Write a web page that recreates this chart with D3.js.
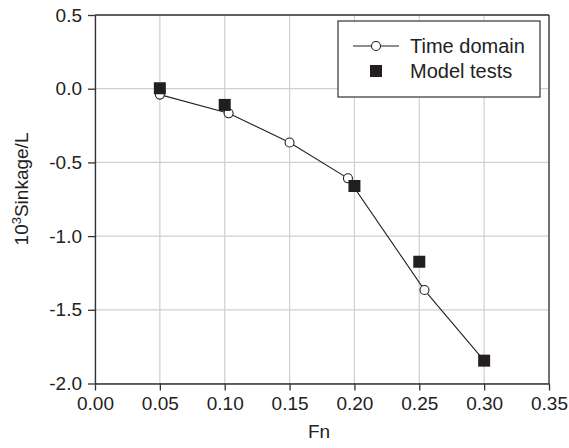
<!DOCTYPE html>
<html>
<head>
<meta charset="utf-8">
<script src="https://cdn.jsdelivr.net/npm/d3@7"></script>
<style>
  body { margin: 0; background: #fff; }
  text { font-family: "Liberation Sans", Arial, sans-serif; fill: #222; }
</style>
</head>
<body>
<svg id="chart"></svg>
<script>
var width = 569, height = 448;
var margin = {top: 15, right: 20, bottom: 65, left: 95};

// Time domain (line with open circles)
var timeFn = [0.05, 0.103, 0.15, 0.195, 0.254, 0.30];
var timeSink = [-0.04, -0.167, -0.365, -0.608, -1.366, -1.845];
// Model tests (filled squares)
var modelFn = [0.05, 0.10, 0.20, 0.25, 0.30];
var modelSink = [0.003, -0.11, -0.66, -1.174, -1.845];

var xTicks = [0.00, 0.05, 0.10, 0.15, 0.20, 0.25, 0.30, 0.35];
var yTicks = [0.5, 0.0, -0.5, -1.0, -1.5, -2.0];

var svg = d3.select("#chart").attr("width", width).attr("height", height);

var x = d3.scaleLinear().domain([0, 0.35]).range([margin.left, 549]);
var y = d3.scaleLinear().domain([-2.0, 0.5]).range([383.5, margin.top]);

//grid
svg.append("g").selectAll("line").data(xTicks).enter().append("line")
  .attr("x1", d => x(d)).attr("x2", d => x(d))
  .attr("y1", y(0.5)).attr("y2", y(-2.0))
  .attr("stroke", "#cfcfcf").attr("stroke-width", 1.2);
svg.append("g").selectAll("line").data(yTicks).enter().append("line")
  .attr("x1", x(0)).attr("x2", x(0.35))
  .attr("y1", d => y(d)).attr("y2", d => y(d))
  .attr("stroke", "#cfcfcf").attr("stroke-width", 1.2);

//axes (plain hyphen for negatives, like the original)
var fmtY = d => d3.format(".1f")(d).replace("\u2212", "-");
var xAxis = svg.append("g").attr("transform", "translate(0," + y(-2.0) + ")")
  .call(d3.axisBottom(x).tickValues(xTicks).tickFormat(d3.format(".2f")).tickSize(7).tickSizeOuter(0));
var yAxis = svg.append("g").attr("transform", "translate(" + x(0) + ",0)")
  .call(d3.axisLeft(y).tickValues(yTicks).tickFormat(fmtY).tickSize(7).tickSizeOuter(0));
[xAxis, yAxis].forEach(function(a){
  a.select(".domain").attr("stroke", "#333").attr("stroke-width", 1.3);
  a.selectAll(".tick line").attr("stroke", "#333").attr("stroke-width", 1.3);
  a.selectAll(".tick text").style("font-family", "Liberation Sans, Arial, sans-serif")
    .style("font-size", "19px").attr("fill", "#222");
});
xAxis.selectAll(".tick text").attr("dy", "0.9em").attr("y", 9);
yAxis.selectAll(".tick text").attr("x", -13);

//top and right frame
svg.append("line").attr("x1", x(0)).attr("x2", x(0.35)).attr("y1", y(0.5)).attr("y2", y(0.5))
  .attr("stroke", "#333").attr("stroke-width", 1.3);
svg.append("line").attr("x1", x(0.35)).attr("x2", x(0.35)).attr("y1", y(0.5)).attr("y2", y(-2.0))
  .attr("stroke", "#333").attr("stroke-width", 1.3);

//axis titles
svg.append("text").attr("x", 319).attr("y", 438).attr("text-anchor", "middle")
  .style("font-size", "19px").text("Fn");
var yl = svg.append("text").attr("transform", "translate(28,189) rotate(-90)")
  .attr("text-anchor", "middle").style("font-size", "19px");
yl.append("tspan").text("10");
yl.append("tspan").attr("dy", -7).style("font-size", "13px").text("3");
yl.append("tspan").attr("dy", 7).text("Sinkage/L");

//time domain series
var timeData = timeFn.map((d, i) => [d, timeSink[i]]);
svg.append("path").datum(timeData)
  .attr("d", d3.line().x(d => x(d[0])).y(d => y(d[1])))
  .attr("fill", "none").attr("stroke", "#222").attr("stroke-width", 1.1);
svg.append("g").selectAll("circle").data(timeData).enter().append("circle")
  .attr("cx", d => x(d[0])).attr("cy", d => y(d[1])).attr("r", 4.5)
  .attr("fill", "#fff").attr("stroke", "#222").attr("stroke-width", 1.1);

//model tests
var sq = 12;
svg.append("g").selectAll("rect").data(modelFn).enter().append("rect")
  .attr("x", (d, i) => x(d) - sq / 2).attr("y", (d, i) => y(modelSink[i]) - sq / 2)
  .attr("width", sq).attr("height", sq).attr("fill", "#231f20");

//legend
var lg = svg.append("g");
lg.append("rect").attr("x", 338).attr("y", 21).attr("width", 202).attr("height", 76)
  .attr("fill", "#fff").attr("stroke", "#333").attr("stroke-width", 1.2);
lg.append("line").attr("x1", 353).attr("x2", 399).attr("y1", 46).attr("y2", 46)
  .attr("stroke", "#222").attr("stroke-width", 1.1);
lg.append("circle").attr("cx", 376).attr("cy", 46).attr("r", 4.5)
  .attr("fill", "#fff").attr("stroke", "#222").attr("stroke-width", 1.1);
lg.append("rect").attr("x", 376 - sq / 2).attr("y", 71 - sq / 2).attr("width", sq).attr("height", sq)
  .attr("fill", "#231f20");
lg.append("text").attr("x", 410).attr("y", 53).style("font-size", "20px").text("Time domain");
lg.append("text").attr("x", 410).attr("y", 78).style("font-size", "20px").text("Model tests");
</script>
</body>
</html>
